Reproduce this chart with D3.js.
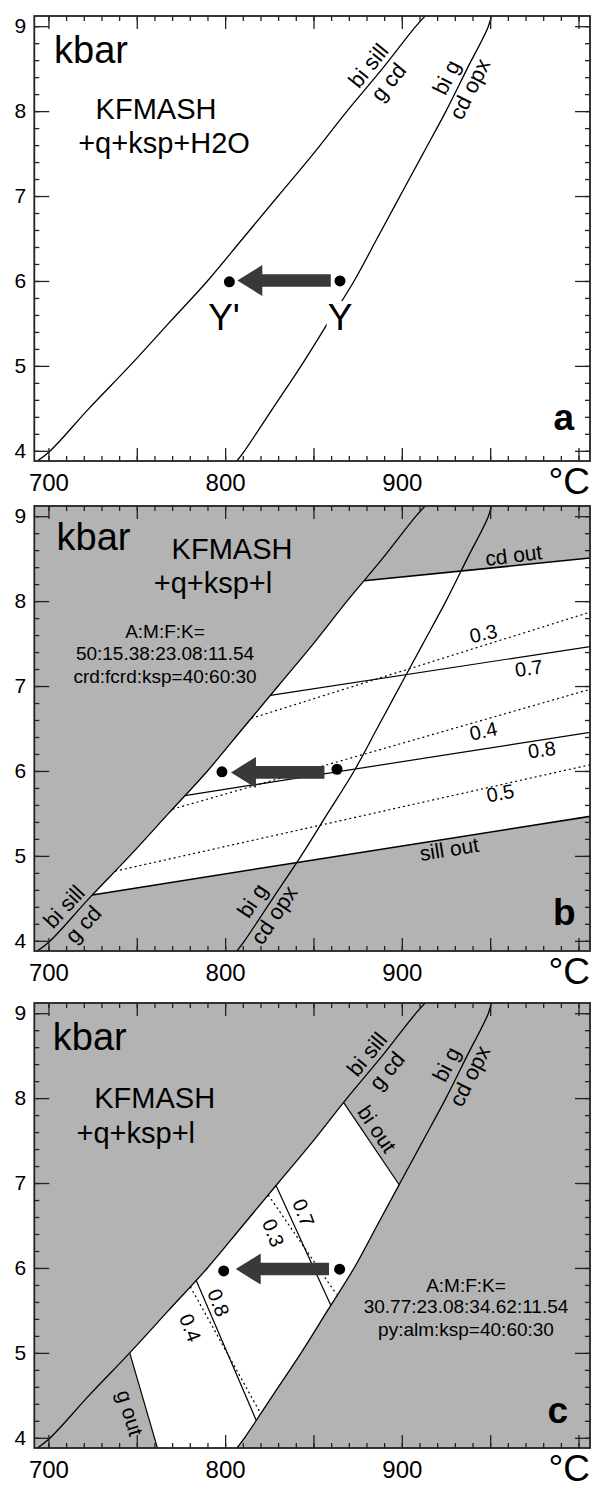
<!DOCTYPE html>
<html>
<head>
<meta charset="utf-8">
<script src="https://cdn.jsdelivr.net/npm/d3@7"></script>
<style>
  body { margin: 0; background: #fff; }
  svg { display: block; }
  text { font-family: "Liberation Sans", Arial, sans-serif; fill: #000; }
</style>
</head>
<body>
<div id="plot_area"></div>
<script>
// reaction curves: T (°C) as a function of P (kbar)
var biSillP = [3.83, 3.98, 4.5, 5, 5.5, 6, 6.5, 7, 7.5, 8, 8.5, 9, 9.16]
var biSillT = [690, 700, 723, 746, 768, 790, 810, 830, 850, 869, 889, 908, 915]
var biGP = [3.85, 4, 4.5, 5, 5.5, 6, 6.5, 7, 7.5, 8, 8.5, 9, 9.16]
var biGT = [805.5, 811, 827, 843, 858, 873, 886, 899, 912, 925, 937, 949, 951]

// panel b lines, [T, P]
var cdOut = [[878.6, 8.24], [1008, 8.51]]
var sillOut = [[724.8, 4.54], [840, 4.92], [1008, 5.47]]
var b07 = [[825.6, 6.89], [1008, 7.47]]
var b08 = [[777.2, 5.71], [1008, 6.46]]
var b03 = [[814.8, 6.62], [1008, 7.88]]
var b04 = [[770.2, 5.55], [1008, 6.97]]
var b05 = [[737.7, 4.82], [1008, 6.08]]

// panel c lines, [T, P]
var gOut = [[746, 5], [762.8, 3.8]]
var biOut = [[867, 7.95], [898.5, 6.98]]
var c07 = [[828.8, 6.97], [859.8, 5.56]]
var c03 = [[824.4, 6.86], [863, 5.69]]
var c08 = [[783.6, 5.855], [817.5, 4.21]]
var c04 = [[780.3, 5.78], [820, 4.29]]

// Y' and Y points and the arrow between them, one entry per panel
var yPrime = [[802.4, 5.99], [798.2, 5.99], [799.2, 5.965]]
var yPoint = [[865, 6.0], [863.3, 6.02], [864.8, 5.985]]
var arrowTail = [859.8, 856.2, 858.8]
var arrowTip = [806.9, 803.3, 806]
var arrowP = [6.005, 5.983, 5.987]

// tick labels
var xLabels = [700, 800, 900]
var yLabels = [4, 5, 6, 7, 8, 9]

var W = 593, H = 1488
var panelTop = [16, 506, 1003]
var panelH = 445
var FONT = '"Liberation Sans", Arial, sans-serif'

var x = d3.scaleLinear().domain([692, 1006.5]).range([34.3, 590])
var y = d3.scaleLinear().domain([3.88, 9.12]).range([panelH, 0])

var biSill = d3.scaleLinear().domain(biSillP).range(biSillT)
var biG = d3.scaleLinear().domain(biGP).range(biGT)

var line = d3.line().x(function (d) { return x(d[0]) }).y(function (d) { return y(d[1]) })
var smooth = d3.line().x(function (d) { return x(d[0]) }).y(function (d) { return y(d[1]) })
  .curve(d3.curveCatmullRom)

var biSillPts = biSillP.map(function (p, i) { return [biSillT[i], p] })
var biGPts = biGP.map(function (p, i) { return [biGT[i], p] })

// points of a curve between two pressures (either direction)
function along(curve, p0, p1) {
  var pts = [[curve(p0), p0]]
  var Ps = curve.domain().slice()
  if (p1 < p0) Ps.reverse()
  Ps.forEach(function (p) {
    if ((p - p0) * (p1 - p) > 0) pts.push([curve(p), p])
  })
  pts.push([curve(p1), p1])
  return pts
}

var svg = d3.select('#plot_area').append('svg')
  .attr('width', W).attr('height', H)

function panel(i, fill) {
  var g = svg.append('g').attr('transform', 'translate(0,' + panelTop[i] + ')')
  g.append('clipPath').attr('id', 'clip' + i).append('rect')
    .attr('x', x.range()[0]).attr('y', 0)
    .attr('width', x.range()[1] - x.range()[0]).attr('height', panelH)
  g.append('rect')
    .attr('x', x.range()[0]).attr('y', 0)
    .attr('width', x.range()[1] - x.range()[0]).attr('height', panelH)
    .attr('fill', fill)
  var inner = g.append('g').attr('clip-path', 'url(#clip' + i + ')')
  return { g: g, inner: inner }
}

function drawLine(g, pts, dashed, width) {
  g.append('path').attr('d', line(pts)).attr('fill', 'none')
    .attr('stroke', '#000').attr('stroke-width', width || 1.2)
    .attr('stroke-dasharray', dashed ? '2,3' : null)
}

function drawCurves(g) {
  g.append('path').attr('d', smooth(biSillPts)).attr('fill', 'none').attr('stroke', '#000').attr('stroke-width', 1.3)
  g.append('path').attr('d', smooth(biGPts)).attr('fill', 'none').attr('stroke', '#000').attr('stroke-width', 1.3)
}

function label(g, txt, T, P, angle, size) {
  g.append('text')
    .attr('transform', 'translate(' + x(T) + ',' + y(P) + ') rotate(' + angle + ')')
    .attr('text-anchor', 'middle').attr('dominant-baseline', 'middle')
    .attr('font-size', size || 20).text(txt)
}

// label sitting beside a curve, offset along its normal (positive = lower right side)
function curveLabel(g, txt, curve, P, offset) {
  var x0 = x(curve(P)), y0 = y(P)
  var x1 = x(curve(P + 0.1)), y1 = y(P + 0.1)
  var len = Math.hypot(x1 - x0, y1 - y0)
  var ux = (x1 - x0) / len, uy = (y1 - y0) / len
  var cx = x0 - uy * offset, cy = y0 + ux * offset
  g.append('text')
    .attr('transform', 'translate(' + cx + ',' + cy + ') rotate(' + (Math.atan2(uy, ux) * 180 / Math.PI) + ')')
    .attr('text-anchor', 'middle').attr('dominant-baseline', 'middle')
    .attr('font-size', 22).text(txt)
}

function plainText(g, txt, px, py, size, anchor, weight) {
  return g.append('text').attr('x', px).attr('y', py)
    .attr('font-size', size).attr('text-anchor', anchor || 'start')
    .attr('font-weight', weight || 'normal').text(txt)
}

function arrowAndDots(g, i) {
  var x0 = x(arrowTail[i]), x1 = x(arrowTip[i]), yy = y(arrowP[i])
  var hl = 25, hh = 15.5, sh = 6.3
  g.append('path')
    .attr('d', 'M' + x1 + ',' + yy + 'L' + (x1 + hl) + ',' + (yy - hh) + 'L' + (x1 + hl) + ',' + (yy - sh) +
      'L' + x0 + ',' + (yy - sh) + 'L' + x0 + ',' + (yy + sh) + 'L' + (x1 + hl) + ',' + (yy + sh) +
      'L' + (x1 + hl) + ',' + (yy + hh) + 'Z')
    .attr('fill', '#393939')
  g.selectAll('circle.pt').data([yPrime[i], yPoint[i]]).enter().append('circle')
    .attr('class', 'pt')
    .attr('cx', function (d) { return x(d[0]) }).attr('cy', function (d) { return y(d[1]) })
    .attr('r', 5.5).attr('fill', '#000')
}

function axes(g) {
  var minorX = d3.range(70, 101).map(function (v) { return v * 10 })
  var majorX = d3.range(14, 21).map(function (v) { return v * 50 })
  var minorY = d3.range(20, 46).map(function (v) { return v / 5 })
  var x0 = x.range()[0], x1 = x.range()[1]

  var parts = [
    [d3.axisBottom(x).tickValues(minorX).tickSize(-5), 'translate(0,' + panelH + ')'],
    [d3.axisBottom(x).tickValues(majorX).tickSize(-13), 'translate(0,' + panelH + ')'],
    [d3.axisTop(x).tickValues(minorX).tickSize(-5), 'translate(0,0)'],
    [d3.axisTop(x).tickValues(majorX).tickSize(-13), 'translate(0,0)'],
    [d3.axisLeft(y).tickValues(minorY).tickSize(-5), 'translate(' + x0 + ',0)'],
    [d3.axisLeft(y).tickValues(yLabels).tickSize(-15), 'translate(' + x0 + ',0)'],
    [d3.axisRight(y).tickValues(minorY).tickSize(-5), 'translate(' + x1 + ',0)'],
    [d3.axisRight(y).tickValues(yLabels).tickSize(-15), 'translate(' + x1 + ',0)']
  ]
  parts.forEach(function (p) {
    var a = g.append('g').attr('transform', p[1]).call(p[0].tickFormat(''))
    a.select('.domain').remove()
    a.selectAll('.tick line').attr('stroke', '#222').attr('stroke-width', 1.3)
  })

  var yl = g.append('g').attr('transform', 'translate(' + x0 + ',0)')
    .call(d3.axisLeft(y).tickValues(yLabels).tickSize(0).tickPadding(8).tickFormat(d3.format('d')))
  yl.select('.domain').remove()
  yl.attr('font-size', 21).attr('font-family', FONT)
  yl.selectAll('text').attr('fill', '#000')

  var xl = g.append('g').attr('transform', 'translate(0,' + panelH + ')')
    .call(d3.axisBottom(x).tickValues(xLabels).tickSize(0).tickPadding(13).tickFormat(d3.format('d')))
  xl.select('.domain').remove()
  xl.attr('font-size', 24).attr('font-family', FONT)
  xl.selectAll('text').attr('fill', '#000')

  plainText(g, '°C', 590, panelH + 33, 37, 'end')

  g.append('rect')
    .attr('x', x0).attr('y', 0).attr('width', x1 - x0).attr('height', panelH)
    .attr('fill', 'none').attr('stroke', '#222').attr('stroke-width', 1.8)
}

// ---------- panel a ----------
var pa = panel(0, '#fff')
drawCurves(pa.inner)
curveLabel(pa.g, 'bi sill', biSill, 8.44, -11)
curveLabel(pa.g, 'g cd', biSill, 8.44, 15)
curveLabel(pa.g, 'bi g', biG, 8.32, -13)
curveLabel(pa.g, 'cd opx', biG, 8.32, 13)
arrowAndDots(pa.g, 0)
plainText(pa.g, "Y'", 224, 314, 37, 'middle')
var yt = plainText(pa.g, 'Y', 340, 314, 37, 'middle')
var bb = yt.node().getBBox()
pa.g.insert('rect', function () { return yt.node() })
  .attr('x', bb.x - 1).attr('y', bb.y + 4).attr('width', bb.width + 2).attr('height', bb.height - 8)
  .attr('fill', '#fff')
plainText(pa.g, 'kbar', 54, 47.3, 38)
plainText(pa.g, 'KFMASH', 156, 102.5, 29, 'middle')
plainText(pa.g, '+q+ksp+H2O', 164, 137.3, 29, 'middle')
plainText(pa.g, 'a', 574, 414, 37, 'end', 'bold')
axes(pa.g)

// ---------- panel b ----------
var pb = panel(1, '#b3b3b3')
var whiteB = along(biSill, sillOut[0][1], cdOut[0][1])
  .concat(cdOut).concat(sillOut.slice().reverse())
pb.inner.append('path').attr('d', line(whiteB) + 'Z').attr('fill', '#fff')
drawLine(pb.inner, cdOut, false, 1.6)
drawLine(pb.inner, sillOut, false, 1.6)
drawLine(pb.inner, b07)
drawLine(pb.inner, b08)
drawLine(pb.inner, b03, true)
drawLine(pb.inner, b04, true)
drawLine(pb.inner, b05, true)
drawCurves(pb.inner)
label(pb.g, 'cd out', 963.4, 8.52, -7, 21)
label(pb.g, 'sill out', 927, 5.06, -9, 21)
label(pb.g, '0.3', 946.3, 7.6, -12)
label(pb.g, '0.7', 972, 7.19, -8)
label(pb.g, '0.4', 946.3, 6.45, -12)
label(pb.g, '0.8', 979.4, 6.23, -8)
label(pb.g, '0.5', 955.9, 5.72, -11)
curveLabel(pb.g, 'bi sill', biSill, 4.3, -11)
curveLabel(pb.g, 'g cd', biSill, 4.3, 15)
curveLabel(pb.g, 'bi g', biG, 4.37, -14)
curveLabel(pb.g, 'cd opx', biG, 4.37, 12)
arrowAndDots(pb.g, 1)
plainText(pb.g, 'kbar', 56.6, 44, 38)
plainText(pb.g, 'KFMASH', 232, 53, 29, 'middle')
plainText(pb.g, '+q+ksp+l', 213, 87, 29, 'middle')
plainText(pb.g, 'A:M:F:K=', 165, 132, 19, 'middle')
plainText(pb.g, '50:15.38:23.08:11.54', 165, 154, 19, 'middle')
plainText(pb.g, 'crd:fcrd:ksp=40:60:30', 165, 177, 19, 'middle')
plainText(pb.g, 'b', 575.5, 419, 37, 'end', 'bold')
axes(pb.g)

// ---------- panel c ----------
var pc = panel(2, '#b3b3b3')
var whiteC = along(biSill, gOut[0][1], biOut[0][1])
  .concat([biOut[1]])
  .concat(along(biG, biOut[1][1], 3.8))
  .concat([gOut[1]])
pc.inner.append('path').attr('d', line(whiteC) + 'Z').attr('fill', '#fff')
drawLine(pc.inner, gOut)
drawLine(pc.inner, biOut)
drawLine(pc.inner, c07)
drawLine(pc.inner, c08)
drawLine(pc.inner, c03, true)
drawLine(pc.inner, c04, true)
drawCurves(pc.inner)
label(pc.g, '0.7', 843.4, 6.643, 69)
label(pc.g, '0.3', 826.3, 6.407, 69)
label(pc.g, '0.8', 795.4, 5.583, 69)
label(pc.g, '0.4', 779.4, 5.288, 69)
label(pc.g, 'bi out', 885.1, 7.624, 56, 21)
label(pc.g, 'g out', 745.2, 4.287, 73, 21)
curveLabel(pc.g, 'bi sill', biSill, 8.42, -11)
curveLabel(pc.g, 'g cd', biSill, 8.42, 15)
curveLabel(pc.g, 'bi g', biG, 8.32, -13)
curveLabel(pc.g, 'cd opx', biG, 8.32, 13)
arrowAndDots(pc.g, 2)
plainText(pc.g, 'kbar', 52.8, 47, 38)
plainText(pc.g, 'KFMASH', 154.7, 105, 29, 'middle')
plainText(pc.g, '+q+ksp+l', 135.8, 140, 29, 'middle')
plainText(pc.g, 'A:M:F:K=', 466, 288.7, 19, 'middle')
plainText(pc.g, '30.77:23.08:34.62:11.54', 466, 310, 19, 'middle')
plainText(pc.g, 'py:alm:ksp=40:60:30', 466, 333, 19, 'middle')
plainText(pc.g, 'c', 568, 420, 37, 'end', 'bold')
axes(pc.g)
</script>
</body>
</html>
